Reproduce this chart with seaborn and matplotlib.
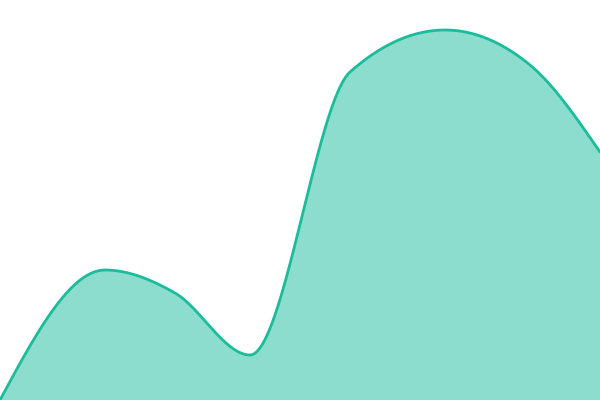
import numpy as np
import pandas as pd
import matplotlib
matplotlib.use("Agg")
import matplotlib.pyplot as plt
import seaborn as sns

# knots (x position, value above the baseline)
x_pts = [0, 105, 175, 250, 350, 445, 530, 600]
y_pts = [0, 130, 107, 45, 328, 370, 335, 248]

line_color = "#1abc9c"


def monotone_x(xs, ys, n=600):
    # monotone cubic (like d3 curveMonotoneX)
    xs = np.asarray(xs, float)
    ys = np.asarray(ys, float)
    h = np.diff(xs)
    s = np.diff(ys) / h
    m = np.zeros_like(ys)
    for i in range(1, len(xs) - 1):
        if s[i - 1] * s[i] <= 0:
            m[i] = 0
        else:
            p = (s[i - 1] * h[i] + s[i] * h[i - 1]) / (h[i - 1] + h[i])
            m[i] = (np.sign(s[i - 1]) + np.sign(s[i])) * min(abs(s[i - 1]), abs(s[i]), 0.5 * abs(p))
    m[0] = (3 * s[0] - m[1]) / 2
    m[-1] = (3 * s[-1] - m[-2]) / 2
    xd = np.linspace(xs[0], xs[-1], n)
    yd = np.empty_like(xd)
    for k, x in enumerate(xd):
        i = min(np.searchsorted(xs, x, side="right") - 1, len(xs) - 2)
        t = (x - xs[i]) / h[i]
        h00 = 2 * t**3 - 3 * t**2 + 1
        h10 = t**3 - 2 * t**2 + t
        h01 = -2 * t**3 + 3 * t**2
        h11 = t**3 - t**2
        yd[k] = h00 * ys[i] + h10 * h[i] * m[i] + h01 * ys[i + 1] + h11 * h[i] * m[i + 1]
    return xd, yd


xd, yd = monotone_x(x_pts, y_pts)
df = pd.DataFrame({"x": xd, "y": yd})

sns.set_style("white")
fig = plt.figure(figsize=(6, 4), dpi=100)
ax = fig.add_axes([0, 0, 1, 1])
ax.fill_between(df["x"], df["y"], 0, color=line_color, alpha=0.5, linewidth=0)
sns.lineplot(data=df, x="x", y="y", color=line_color, linewidth=2.0, ax=ax, sort=False)
ax.set_xlim(0, 600)
ax.set_ylim(0, 400)
ax.axis("off")
fig.savefig("out.png", dpi=100)
